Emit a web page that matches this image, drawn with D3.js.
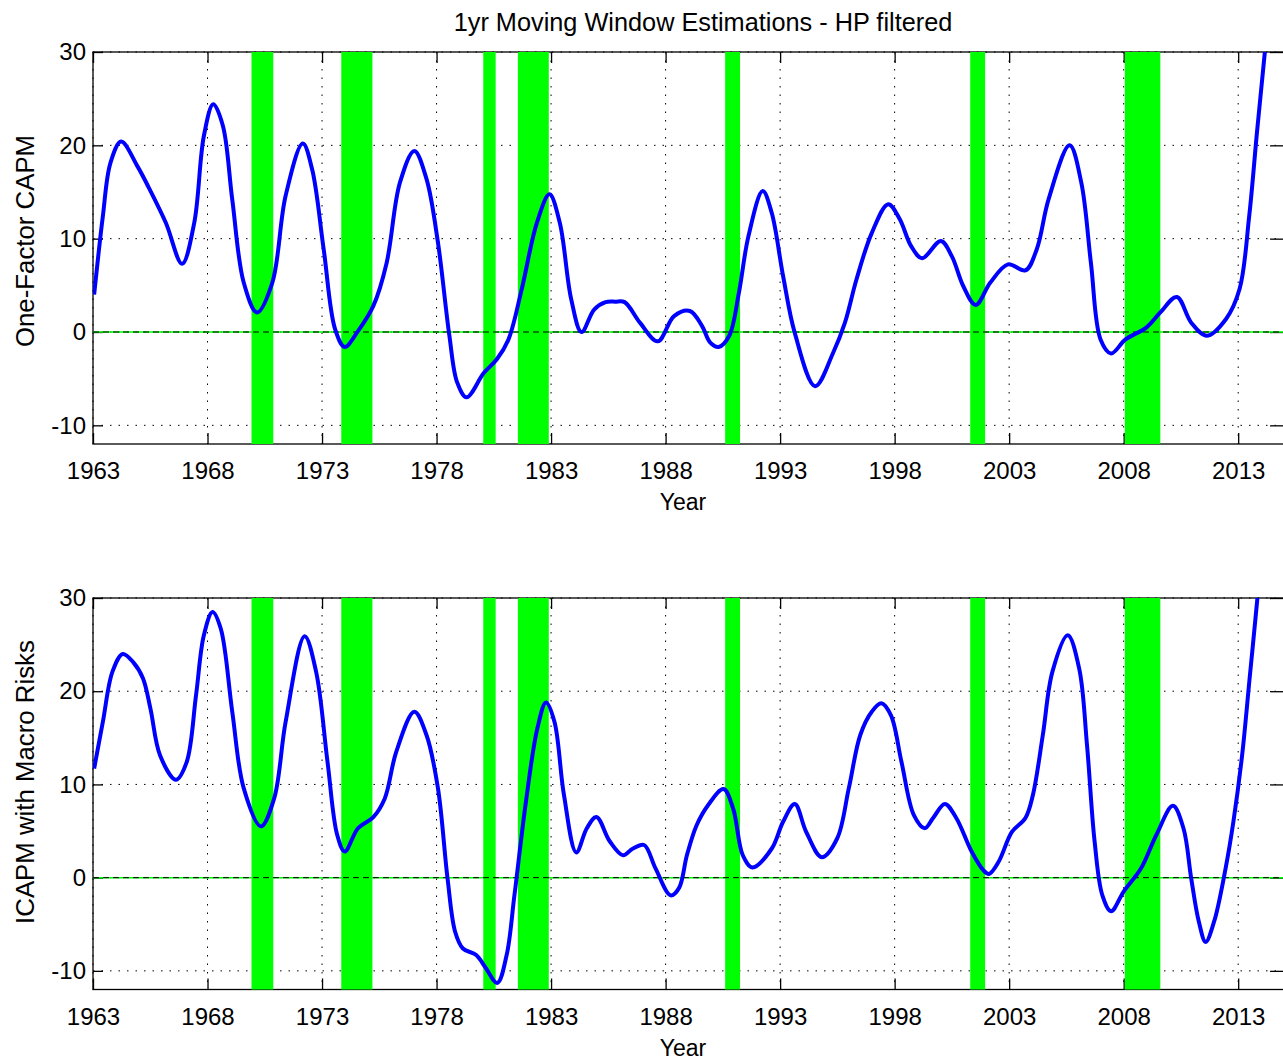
<!DOCTYPE html>
<html>
<head>
<meta charset="utf-8">
<script src="https://cdn.jsdelivr.net/npm/d3@7"></script>
<style>
  body { margin: 0; background: #fff; }
  text { font-family: "Liberation Sans", Arial, Helvetica, sans-serif; fill: #000; }
</style>
</head>
<body>
<script>
// axis ticks
var xTicks = [1963, 1968, 1973, 1978, 1983, 1988, 1993, 1998, 2003, 2008, 2013];
var yTicks = [-10, 0, 10, 20, 30];

// recession bands (start / end, fractional years)
var recStart = [1969.92, 1973.84, 1980.04, 1981.55, 1990.6, 2001.3, 2008.05];
var recEnd   = [1970.87, 1975.2, 1980.58, 1982.9, 1991.25, 2001.95, 2009.6];

// one-factor CAPM
var capmYears = [1963.05, 1963.43, 1963.76, 1964.23, 1964.93, 1965.43, 1966.18, 1966.89, 1967.42, 1967.84,
  1968.25, 1968.67, 1969.08, 1969.58, 1970.16, 1970.83, 1971.41, 1972.16, 1972.57, 1973.07,
  1973.57, 1973.99, 1974.57, 1975.24, 1975.82, 1976.4, 1977.03, 1977.56, 1978.06, 1978.56,
  1978.9, 1979.31, 1980.06, 1980.64, 1981.14, 1981.72, 1982.38, 1982.93, 1983.38, 1983.88,
  1984.33, 1984.88, 1985.38, 1985.8, 1986.21, 1986.88, 1987.66, 1988.37, 1989.06, 1989.6,
  1989.94, 1990.32, 1990.78, 1991.2, 1991.62, 1992.24, 1992.63, 1993.13, 1993.64, 1994.53,
  1995.32, 1995.83, 1996.33, 1997.0, 1997.72, 1998.22, 1998.72, 1999.2, 2000.02, 2000.5,
  2001.0, 2001.54, 2002.18, 2002.95, 2003.71, 2004.21, 2004.72, 2005.64, 2006.15, 2006.57,
  2006.99, 2007.45, 2008.08, 2009.0, 2009.6, 2010.32, 2010.95, 2011.63, 2012.47, 2013.06,
  2013.48, 2013.82, 2014.16, 2014.35];
var capmValues = [4.0, 12.4, 18.1, 20.4, 17.8, 15.5, 11.7, 7.3, 11.7, 21.0,
  24.4, 22.1, 14.2, 5.3, 2.1, 5.3, 14.6, 20.2, 17.4, 8.9,
  0.3, -1.6, 0.1, 2.8, 7.4, 16.0, 19.4, 16.4, 9.6, -0.4,
  -5.4, -7.0, -4.4, -2.9, -0.8, 4.6, 11.7, 14.75, 11.7, 3.5,
  0.0, 2.4, 3.2, 3.25, 3.2, 1.0, -1.0, 1.7, 2.25, 0.6,
  -1.1, -1.6, -0.4, 4.2, 10.3, 15.1, 12.8, 6.0, -0.1, -5.8,
  -2.2, 1.0, 5.6, 10.6, 13.7, 12.1, 9.2, 7.9, 9.75, 8.1,
  4.9, 2.9, 5.3, 7.25, 6.6, 8.9, 14.2, 20.0, 16.0, 7.4,
  -0.8, -2.3, -0.8, 0.5, 2.1, 3.75, 1.0, -0.4, 1.4, 4.6,
  12.4, 21.4, 29.9, 35.5];

// ICAPM with macro risks
var icapmYears = [1963.05, 1963.43, 1963.85, 1964.3, 1964.76, 1965.18, 1965.51, 1965.93, 1966.62, 1967.09,
  1967.5, 1967.84, 1968.22, 1968.58, 1969.08, 1969.58, 1970.33, 1970.91, 1971.41, 1972.24,
  1972.74, 1973.24, 1973.66, 1973.99, 1974.57, 1975.24, 1975.74, 1976.24, 1977.03, 1977.56,
  1978.06, 1978.48, 1978.81, 1979.15, 1979.73, 1980.15, 1980.65, 1981.06, 1981.4, 1981.9,
  1982.4, 1982.78, 1983.15, 1983.56, 1984.1, 1984.56, 1984.98, 1985.56, 1986.14, 1986.56,
  1987.06, 1987.56, 1988.22, 1988.59, 1988.93, 1989.35, 1989.86, 1990.53, 1990.95, 1991.37,
  1991.79, 1992.63, 1993.13, 1993.64, 1994.14, 1994.82, 1995.49, 1996.0, 1996.5, 1997.0,
  1997.42, 1997.84, 1998.3, 1998.84, 1999.31, 1999.68, 2000.19, 2000.69, 2001.36, 2001.87,
  2002.12, 2002.54, 2003.12, 2003.71, 2004.04, 2004.47, 2004.89, 2005.56, 2006.06, 2006.4,
  2006.73, 2007.07, 2007.45, 2008.0, 2008.76, 2009.43, 2010.15, 2010.61, 2010.95, 2011.28,
  2011.58, 2011.95, 2012.45, 2012.79, 2013.17, 2013.5, 2013.84, 2014.05];
var icapmValues = [11.7, 16.7, 22.1, 24.0, 23.1, 21.4, 18.1, 13.1, 10.5, 12.4,
  19.6, 26.0, 28.5, 26.7, 17.8, 9.6, 5.5, 8.5, 16.7, 25.9,
  22.1, 12.4, 4.6, 2.8, 5.3, 6.5, 8.5, 13.5, 17.8, 15.3,
  9.6, -0.1, -5.8, -7.6, -8.3, -9.7, -11.3, -8.3, -1.9, 8.1,
  16.0, 18.8, 16.7, 8.9, 2.7, 5.3, 6.5, 3.9, 2.4, 3.1,
  3.5, 1.0, -1.9, -1.1, 2.4, 5.6, 7.8, 9.5, 7.4, 2.4,
  1.1, 3.1, 6.0, 7.9, 4.9, 2.2, 4.2, 9.6, 15.3, 17.8,
  18.7, 17.4, 12.4, 6.7, 5.3, 6.4, 7.9, 6.4, 2.8, 0.8,
  0.4, 1.7, 4.9, 6.4, 8.9, 15.3, 22.1, 26.0, 22.4, 14.2,
  3.9, -1.9, -3.6, -1.5, 1.0, 4.6, 7.7, 5.3, -0.1, -4.7,
  -6.9, -4.7, 1.0, 6.0, 13.1, 21.4, 30.0, 36.0];

var W = 1283, H = 1061;
var left = 93, right = 1284;

var svg = d3.select("body").append("svg")
    .attr("width", W)
    .attr("height", H);

svg.append("rect").attr("width", W).attr("height", H).attr("fill", "#fff");

svg.append("text")
    .attr("x", 703)
    .attr("y", 31)
    .attr("text-anchor", "middle")
    .attr("font-size", "25.3px")
    .text("1yr Moving Window Estimations - HP filtered");

var x = d3.scaleLinear().domain([1963, 2015]).range([left, right]);

var drawPanel = (id, top, bottom, years, values, label, labelY) => {
    var y = d3.scaleLinear().domain([-12, 30]).range([bottom, top]);
    var g = svg.append("g");

    // dotted grid
    g.selectAll(".vgrid").data(xTicks).enter().append("line")
        .attr("x1", d => x(d)).attr("x2", d => x(d))
        .attr("y1", top).attr("y2", bottom)
        .attr("stroke", "#000").attr("stroke-width", 1)
        .attr("stroke-dasharray", "1.5,7");
    g.selectAll(".hgrid").data(yTicks).enter().append("line")
        .attr("x1", left).attr("x2", right)
        .attr("y1", d => y(d)).attr("y2", d => y(d))
        .attr("stroke", "#000").attr("stroke-width", 1)
        .attr("stroke-dasharray", "1.5,7");

    // box + inward ticks
    g.append("rect")
        .attr("x", left).attr("y", top)
        .attr("width", right - left).attr("height", bottom - top)
        .attr("fill", "none").attr("stroke", "#000").attr("stroke-width", 1.3);

    g.append("g").attr("transform", `translate(0,${bottom})`)
        .call(d3.axisBottom(x).tickValues(xTicks).tickSize(-11).tickFormat(d => String(d)))
        .call(a => a.select(".domain").remove())
        .call(a => a.selectAll("text").attr("dy", null).attr("y", 35).attr("font-size", "24px")
            .attr("font-family", null).attr("fill", "#000"));
    g.append("g").attr("transform", `translate(0,${top})`)
        .call(d3.axisTop(x).tickValues(xTicks).tickSize(-11).tickFormat(""))
        .call(a => a.select(".domain").remove());
    g.append("g").attr("transform", `translate(${left},0)`)
        .call(d3.axisLeft(y).tickValues(yTicks).tickSize(-10).tickPadding(7).tickFormat(d => String(d)))
        .call(a => a.select(".domain").remove())
        .call(a => a.selectAll("text").attr("font-size", "24px").attr("font-family", null).attr("fill", "#000"));
    g.append("g").attr("transform", `translate(${right},0)`)
        .call(d3.axisRight(y).tickValues(yTicks).tickSize(-14).tickFormat(""))
        .call(a => a.select(".domain").remove());
    g.selectAll(".tick line").attr("stroke", "#000").attr("stroke-width", 1.3);

    // recession bands
    g.selectAll(".rec").data(recStart).enter().append("rect")
        .attr("x", d => x(d))
        .attr("width", (d, i) => x(recEnd[i]) - x(d))
        .attr("y", top).attr("height", bottom - top)
        .attr("fill", "#00ff00");

    // zero line
    g.append("line")
        .attr("x1", left).attr("x2", right).attr("y1", y(0)).attr("y2", y(0))
        .attr("stroke", "#00ff00").attr("stroke-width", 1.5);
    g.append("line")
        .attr("x1", left).attr("x2", right).attr("y1", y(0)).attr("y2", y(0))
        .attr("stroke", "#000").attr("stroke-width", 1).attr("stroke-dasharray", "6,4");

    svg.append("clipPath").attr("id", id)
        .append("rect").attr("x", left).attr("y", top)
        .attr("width", right - left).attr("height", bottom - top);

    var line = d3.line()
        .x((d, i) => x(years[i]))
        .y(d => y(d))
        .curve(d3.curveCatmullRom.alpha(0.5));

    g.append("path")
        .datum(values)
        .attr("clip-path", `url(#${id})`)
        .attr("d", line)
        .attr("fill", "none")
        .attr("stroke", "#0000ff")
        .attr("stroke-width", 4)
        .attr("stroke-linejoin", "round");

    svg.append("text")
        .attr("x", 683).attr("y", bottom + 66)
        .attr("text-anchor", "middle")
        .attr("font-size", "23px")
        .text("Year");

    svg.append("text")
        .attr("transform", `translate(34,${labelY}) rotate(-90)`)
        .attr("text-anchor", "middle")
        .attr("font-size", "25.8px")
        .text(label);
};

drawPanel("clipTop", 52, 444, capmYears, capmValues, "One-Factor CAPM", 241);
drawPanel("clipBottom", 598, 989.5, icapmYears, icapmValues, "ICAPM with Macro Risks", 782);
</script>
</body>
</html>
